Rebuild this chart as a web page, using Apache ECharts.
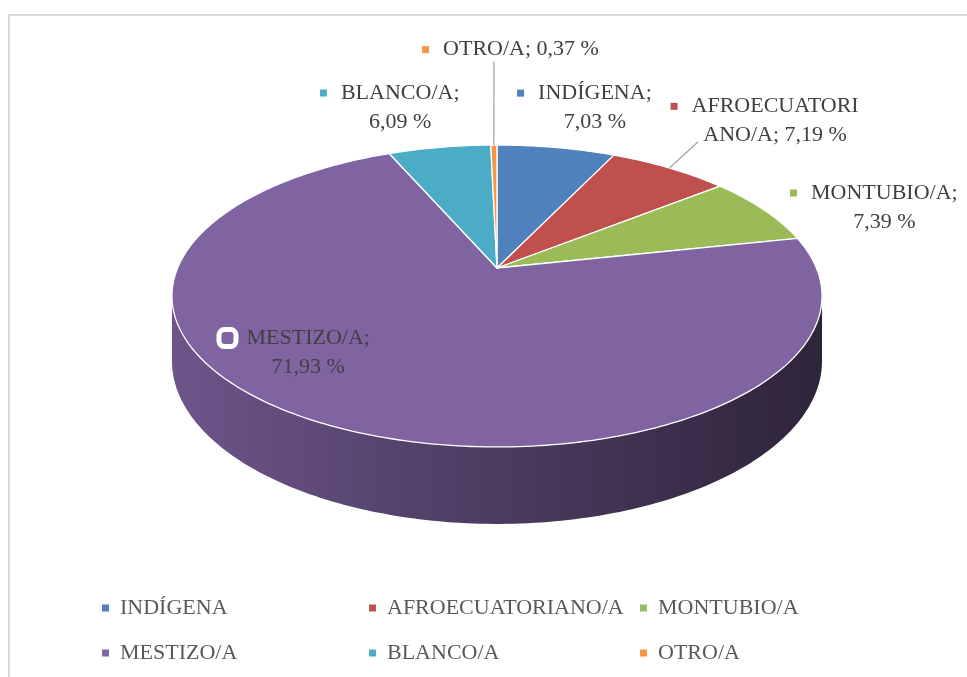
<!DOCTYPE html>
<html>
<head>
<meta charset="utf-8">
<script src="https://cdn.jsdelivr.net/npm/echarts@6/dist/echarts.min.js"></script>
<style>
  html, body { margin: 0; padding: 0; background: #fff; }
  #graph { width: 967px; height: 677px; }
</style>
</head>
<body>
<div id="graph"></div>
<script>
var categories = ['INDÍGENA', 'AFROECUATORIANO/A', 'MONTUBIO/A', 'MESTIZO/A', 'BLANCO/A', 'OTRO/A'];
var percents = [7.03, 7.19, 7.39, 71.93, 6.09, 0.37];
var colors = ['#4f81bd', '#c0504d', '#9bbb59', '#8064a2', '#4bacc6', '#f79646'];
// characters of "NAME; xx,xx %" kept on the first label line (0 = one line)
var labelWrap = [9, 12, 11, 10, 9, 0];
var legendColumns = [[0, 3], [1, 4], [2, 5]];

var font = 'Liberation Serif';
var textColor = '#404040';

// perspective disc: u across, v in depth (-1 far, +1 near)
var geo = { cx: 497, cy: 268, sx: 319.4, a: 96.1, c: -0.1854, depth: 62.7 };
var wallFrom = Math.acos(geo.c) * 180 / Math.PI;   // ~100.7 deg
var wallTo = 360 - wallFrom;

// label placement: radius on the disc + small nudge, leader end relative to label
var labelR = [1.35, 1.35, 1.35, 0.7, 1.35, 1.35];
var labelNudge = [[22, -6], [55, -18], [36, 16], [-73, -18], [-23, -6], [28, -61]];
var leaderEnd = [null, [-77, 21], null, null, null, [-27, 12]];

var project = (theta, r, drop) => {
  var t = theta * Math.PI / 180;
  var u = r * Math.sin(t), v = -r * Math.cos(t);
  var den = 1 + geo.c * v;
  return [geo.cx + geo.sx * u / den, (geo.a * v + geo.cy + (drop || 0)) / den];
};

var arcPoints = (t0, t1, drop) => {
  var n = Math.max(2, Math.ceil(t1 - t0));
  var pts = [];
  for (var k = 0; k <= n; k++) pts.push(project(t0 + (t1 - t0) * k / n, 1, drop));
  return pts;
};

var shade = (hex, f) => {
  var n = parseInt(hex.slice(1), 16);
  var ch = [n >> 16, (n >> 8) & 255, n & 255].map(x => Math.round(x * f));
  return 'rgb(' + ch.join(',') + ')';
};

var fmtPct = v => v.toFixed(2).replace('.', ',') + ' %';

var starts = [];
percents.reduce((acc, p, i) => { starts[i] = acc; return acc + p; }, 0);

var makeRender = i => (params, api) => {
  var start = api.value(0), pct = api.value(1);
  var t0 = start / 100 * 360, t1 = (start + pct) / 100 * 360;
  var color = colors[i];
  var children = [];

  // front wall of the slice
  var w0 = Math.max(t0, wallFrom), w1 = Math.min(t1, wallTo);
  if (w1 > w0) {
    var top = arcPoints(w0, w1, 0);
    var bottom = arcPoints(w0, w1, geo.depth).reverse();
    children.push({
      type: 'polygon',
      shape: { points: top.concat(bottom) },
      style: {
        fill: new echarts.graphic.LinearGradient(0, 0, 1, 0, [
          { offset: 0, color: shade(color, 0.85) },
          { offset: 0.45, color: shade(color, 0.62) },
          { offset: 1, color: shade(color, 0.36) }
        ])
      }
    });
  }

  // top face
  children.push({
    type: 'polygon',
    shape: { points: [project(0, 0, 0)].concat(arcPoints(t0, t1, 0)) },
    style: { fill: color, stroke: '#fff', lineWidth: 1.3, lineJoin: 'round' }
  });

  // label
  var mid = (t0 + t1) / 2;
  var anchor = project(mid, labelR[i], 0);
  var lx = anchor[0] + labelNudge[i][0], ly = anchor[1] + labelNudge[i][1];
  var full = categories[i] + '; ' + fmtPct(percents[i]);
  var k = labelWrap[i];
  var line1 = k ? full.slice(0, k).trim() : full;
  var line2 = k ? full.slice(k).trim() : '';
  var inside = i === 3;
  var rich = {
    m: inside
      ? { width: 12, height: 12, backgroundColor: color, borderColor: '#fff', borderWidth: 5, borderRadius: 3 }
      : { width: 7, height: 7, backgroundColor: color },
    s: { width: inside ? 13 : 14 },
    p: { width: inside ? 25 : 21 },
    t: { fontFamily: font, fontSize: 22, color: textColor, lineHeight: 29 }
  };
  var text = '{m|}{s|}{t|' + line1 + '}{p|}' + (line2 ? '\n{t|' + line2 + '}' : '');
  children.push({
    type: 'text',
    x: lx, y: ly,
    style: {
      text: text, rich: rich, align: 'center', verticalAlign: 'middle',
      fontFamily: font, fontSize: 22, fill: textColor, lineHeight: 29
    }
  });

  if (leaderEnd[i]) {
    var p0 = project(mid, 1, 0);
    children.push({
      type: 'line',
      shape: { x1: p0[0], y1: p0[1], x2: lx + leaderEnd[i][0], y2: ly + leaderEnd[i][1] },
      style: { stroke: '#a6a6a6', lineWidth: 1.3 }
    });
  }

  return { type: 'group', children: children };
};

var series = categories.map((name, i) => ({
  name: name,
  type: 'custom',
  coordinateSystem: 'none',
  itemStyle: { color: colors[i] },
  renderItem: makeRender(i),
  data: [[starts[i], percents[i]]]
}));

var legends = legendColumns.map((col, c) => ({
  orient: 'vertical',
  left: [102, 369, 640][c],
  top: 597,
  padding: 0,
  itemGap: 23,
  itemWidth: 7,
  itemHeight: 7,
  icon: 'rect',
  selectedMode: false,
  data: col.map(i => categories[i]),
  textStyle: { fontFamily: font, fontSize: 22, color: '#595959', lineHeight: 22, padding: [0, 0, 0, 6] }
}));

var chart = echarts.init(document.getElementById('graph'));
chart.setOption({
  animation: false,
  backgroundColor: '#fff',
  graphic: [{
    type: 'rect',
    shape: { x: 9, y: 15, width: 1000, height: 700 },
    style: { fill: 'none', stroke: '#d9d9d9', lineWidth: 2 },
    silent: true
  }],
  legend: legends,
  series: series
});
</script>
</body>
</html>
